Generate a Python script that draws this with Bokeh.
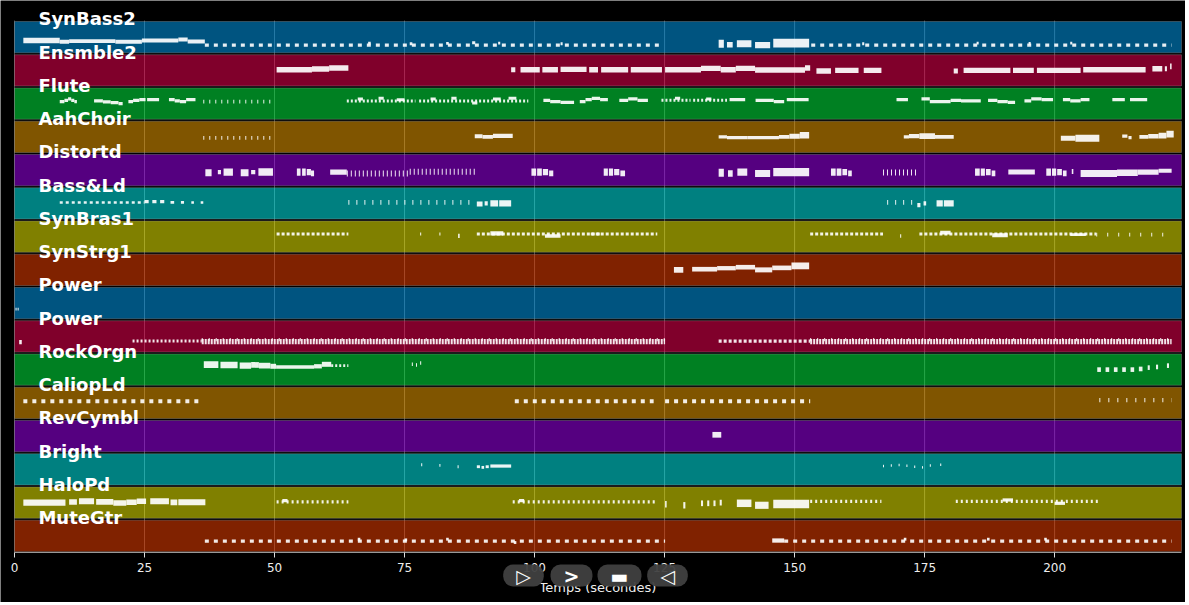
from bokeh.plotting import figure
from bokeh.models import ColumnDataSource, LabelSet, Label, Range1d, FixedTicker
from bokeh.core.properties import value
from bokeh.embed import file_html
from bokeh.resources import INLINE

# ---------------- data ----------------
TRACK_NAMES = ["SynBass2", "Ensmble2", "Flute", "AahChoir", "Distortd", "Bass&Ld",
               "SynBras1", "SynStrg1", "Power", "Power", "RockOrgn", "CaliopLd",
               "RevCymbl", "Bright", "HaloPd", "MuteGtr"]
TRACK_COLORS = ["#00a8ff", "#ff0055", "#00ff44", "#ffaa00", "#aa00ff", "#00ffff",
                "#ffff00", "#ff4400"] * 2
X_TICKS = [0, 25, 50, 75, 100, 125, 150, 175, 200]
TIME_END = 224.4

# note tuples: ("n", start, end, level-in-band, velocity)
# repeated notes: ("r", start, end, level, velocity, interval)   ticks: ("t", ...)
SYNBASS2 = [
    ("n", 1.7, 8.7, .40, 75), ("n", 8.7, 10.5, .36, 55), ("n", 10.5, 19.4, .38, 55),
    ("n", 19.4, 24.5, .36, 55), ("n", 24.5, 31.5, .40, 55), ("n", 31.5, 33.3, .43, 55),
    ("n", 33.3, 36.6, .37, 55),
    ("r", 36.6, 124.7, .26, 45, 1.7),
    ("n", 68, 68.5, .32, 40), ("n", 76, 76.5, .30, 40), ("n", 83, 83.5, .31, 40),
    ("n", 88, 88.6, .33, 40), ("n", 93, 93.4, .32, 40), ("n", 105, 105.4, .30, 40),
    ("n", 135.4, 136.4, .30, 110), ("n", 137.0, 138.1, .27, 75), ("n", 138.9, 141.7, .30, 100),
    ("n", 142.4, 145.3, .26, 90), ("n", 145.9, 152.8, .32, 120),
    ("r", 153.2, 222.5, .26, 45, 1.7),
    ("n", 163, 163.4, .30, 40), ("n", 185, 185.4, .32, 40), ("n", 195, 195.4, .31, 40),
    ("n", 203, 203.4, .32, 40),
]
ENSMBLE2 = [
    ("n", 50.4, 57.2, .52, 75), ("n", 57.2, 60.5, .54, 75), ("n", 60.5, 64.2, .57, 75),
    ("n", 95.5, 96.3, .52, 70), ("n", 97.3, 101.0, .52, 75), ("n", 101.5, 104.5, .52, 75),
    ("n", 105.0, 110.0, .53, 75), ("n", 110.5, 112.2, .52, 75), ("n", 112.8, 118.0, .52, 75),
    ("n", 118.5, 124.5, .52, 75), ("n", 125.1, 132.0, .52, 75), ("n", 132.0, 135.8, .56, 75),
    ("n", 135.8, 138.7, .52, 75), ("n", 138.7, 142.4, .56, 75), ("n", 142.4, 152.0, .51, 75),
    ("n", 152.0, 153.0, .57, 75), ("n", 154.2, 157.0, .48, 75), ("n", 157.8, 162.3, .50, 75),
    ("n", 163.3, 166.7, .50, 75), ("n", 180.6, 181.4, .48, 70), ("n", 182.5, 191.5, .50, 75),
    ("n", 192.0, 196.0, .50, 75), ("n", 196.6, 205.0, .50, 75), ("n", 205.5, 217.5, .52, 75),
    ("n", 218.8, 220.7, .55, 75), ("n", 221.2, 221.6, .55, 70), ("n", 222.2, 222.5, .62, 80),
]
FLUTE = [
    ("n", 8.7, 9.6, .56, 45), ("n", 9.6, 10.3, .60, 45), ("n", 10.3, 10.9, .64, 45),
    ("n", 10.9, 11.5, .60, 45), ("n", 11.5, 12.0, .56, 45),
    ("n", 15.3, 17.0, .58, 45), ("n", 17.0, 18.5, .55, 45), ("n", 18.5, 20.0, .53, 45),
    ("n", 20.0, 20.8, .50, 45),
    ("n", 21.9, 22.8, .56, 45), ("n", 22.8, 24.0, .60, 45), ("n", 24.0, 25.2, .62, 45),
    ("n", 25.5, 27.8, .62, 45),
    ("n", 29.7, 30.8, .62, 45), ("n", 30.8, 31.8, .58, 45), ("n", 31.8, 33.0, .56, 45),
    ("n", 33.0, 34.8, .62, 45),
    ("t", 36.3, 49.5, .56, 50, 1.1),
    ("r", 63.9, 77.1, .58, 42, 0.7), ("n", 66, 67, .64, 42), ("n", 70, 71, .66, 42),
    ("n", 73.5, 75, .62, 42),
    ("r", 77.8, 98.8, .58, 42, 0.7), ("n", 80, 81, .64, 42), ("n", 84, 85, .66, 42),
    ("n", 88, 89, .52, 42), ("n", 92, 93.5, .64, 42), ("n", 95, 96.5, .66, 42),
    ("n", 101.7, 103.0, .60, 45), ("n", 103.0, 105.0, .56, 45), ("n", 105.0, 107.6, .54, 45),
    ("n", 108.7, 109.8, .56, 45), ("n", 109.8, 111.0, .62, 45), ("n", 111.0, 112.6, .66, 45),
    ("n", 112.6, 114.1, .62, 45),
    ("n", 116.3, 118.0, .60, 45), ("n", 118.0, 119.8, .64, 45), ("n", 119.8, 121.8, .60, 45),
    ("r", 124.4, 130.0, .60, 42, 0.7), ("r", 130.5, 137.0, .60, 42, 0.7),
    ("n", 127, 128, .66, 42), ("n", 133, 134, .64, 42),
    ("n", 137.5, 140.5, .62, 45), ("n", 142.5, 146.0, .60, 45), ("n", 146.0, 148.0, .56, 45),
    ("n", 148.5, 152.7, .62, 45),
    ("n", 169.6, 171.8, .62, 45), ("n", 174.4, 176.0, .64, 45), ("n", 176.0, 180.0, .56, 45),
    ("n", 180.0, 182.0, .60, 45), ("n", 182.0, 185.8, .58, 45),
    ("n", 187.2, 189.0, .60, 45), ("n", 189.0, 191.0, .56, 45), ("n", 191.0, 192.4, .54, 45),
    ("n", 194.2, 195.5, .58, 45), ("n", 195.5, 197.5, .64, 45), ("n", 197.5, 199.7, .62, 45),
    ("n", 201.6, 203.0, .62, 45), ("n", 203.0, 205.0, .58, 45), ("n", 205.0, 206.7, .62, 45),
    ("n", 211.1, 213.5, .62, 45), ("n", 214.5, 217.8, .62, 45),
]
AAHCHOIR = [
    ("t", 36.3, 49.5, .47, 50, 1.1),
    ("n", 88.5, 90.0, .52, 55), ("n", 90.0, 92.0, .50, 55), ("n", 92.0, 95.8, .53, 60),
    ("n", 135.4, 137.0, .50, 45), ("n", 137.0, 141.0, .48, 45), ("n", 141.0, 147.0, .48, 45),
    ("n", 147.0, 149.0, .50, 50), ("n", 149.0, 151.0, .52, 70), ("n", 151.0, 152.8, .55, 90),
    ("n", 171.0, 172.0, .50, 45), ("n", 172.0, 174.0, .52, 60), ("n", 174.0, 177.0, .52, 80),
    ("n", 177.0, 180.6, .50, 55),
    ("n", 201.2, 204.0, .46, 70), ("n", 204.0, 208.6, .46, 100),
    ("n", 213.0, 214.0, .52, 45), ("n", 214.2, 214.8, .48, 45),
    ("n", 216.3, 218.0, .50, 55), ("n", 218.0, 220.0, .52, 65), ("n", 220.0, 221.5, .54, 80),
    ("n", 221.5, 222.9, .58, 95),
]
DISTORTD = [
    ("n", 36.7, 37.9, .42, 100), ("n", 39.1, 39.7, .44, 60), ("n", 40.2, 42.0, .44, 100),
    ("n", 43.5, 45.0, .42, 100), ("n", 45.5, 46.3, .44, 60), ("n", 46.9, 49.7, .44, 105),
    ("n", 54.3, 55.0, .44, 100), ("n", 55.3, 56.0, .44, 100), ("n", 56.2, 57.0, .44, 90),
    ("n", 57.0, 57.6, .40, 80), ("n", 60.7, 63.9, .44, 75),
    ("t", 63.9, 76.0, .40, 85, 0.8), ("t", 76.0, 88.5, .45, 85, 0.8),
    ("n", 99.4, 100.3, .44, 100), ("n", 100.5, 101.4, .44, 100), ("n", 101.6, 102.6, .44, 90),
    ("n", 102.8, 103.6, .40, 80),
    ("n", 113.3, 114.1, .44, 100), ("n", 114.3, 115.1, .44, 100), ("n", 115.3, 116.3, .44, 90),
    ("n", 116.5, 117.4, .40, 80),
    ("n", 135.4, 136.4, .42, 110), ("n", 137.2, 138.1, .40, 90), ("n", 139.0, 140.9, .44, 100),
    ("n", 142.4, 145.3, .40, 100), ("n", 145.9, 152.8, .44, 115),
    ("n", 157.0, 157.9, .44, 100), ("n", 158.1, 159.0, .44, 100), ("n", 159.2, 160.1, .44, 90),
    ("n", 160.3, 161.0, .40, 80),
    ("t", 167.0, 173.6, .43, 85, 0.8),
    ("n", 184.7, 185.6, .44, 100), ("n", 185.8, 186.6, .44, 100), ("n", 186.8, 187.7, .44, 90),
    ("n", 187.9, 188.6, .40, 80), ("n", 191.1, 196.2, .44, 70),
    ("n", 198.4, 199.3, .44, 100), ("n", 199.5, 200.3, .44, 100), ("n", 200.5, 201.4, .44, 90),
    ("n", 201.6, 202.3, .40, 80), ("n", 203.3, 203.6, .46, 70),
    ("n", 205.0, 212.0, .40, 100), ("n", 212.0, 216.0, .42, 90), ("n", 216.0, 220.0, .44, 75),
    ("n", 220.0, 222.5, .48, 55),
]
BASSLD = [
    ("r", 8.7, 25.0, .53, 35, 1.2),
    ("n", 25.0, 25.8, .55, 45), ("n", 26.5, 27.3, .55, 45), ("n", 28.0, 28.8, .55, 45),
    ("n", 30.0, 30.7, .53, 40), ("n", 32.0, 32.6, .53, 40), ("n", 34.0, 34.5, .53, 35),
    ("n", 35.8, 36.3, .53, 35),
    ("t", 64.2, 88.5, .53, 65, 1.5),
    ("n", 88.9, 90.0, .48, 70), ("n", 90.4, 91.0, .50, 60), ("n", 91.5, 93.0, .50, 90),
    ("n", 93.2, 95.5, .50, 90),
    ("t", 167.8, 173.3, .53, 65, 1.5),
    ("n", 173.6, 174.2, .45, 60), ("n", 174.8, 175.3, .50, 60), ("n", 177.3, 178.5, .50, 90),
    ("n", 178.7, 180.6, .50, 90),
]
SYNBRAS1 = [
    ("r", 50.4, 64.2, .58, 40, 1.0),
    ("n", 78.0, 78.2, .58, 40), ("n", 81.7, 81.9, .58, 40), ("n", 85.3, 85.6, .52, 60),
    ("r", 88.9, 112.6, .58, 40, 1.0), ("n", 91.5, 94.0, .60, 60), ("n", 102.0, 105.0, .52, 50),
    ("r", 110.8, 123.6, .58, 40, 1.0),
    ("r", 153.0, 167.0, .58, 40, 1.0), ("n", 170.3, 170.5, .52, 50),
    ("r", 174.0, 208.0, .58, 40, 1.0), ("n", 178.0, 180.0, .62, 50), ("n", 188.0, 191.0, .54, 55),
    ("n", 203.0, 206.0, .56, 40),
    ("t", 208.0, 222.5, .56, 55, 2.2),
]
SYNSTRG1 = [
    ("n", 126.8, 128.6, .50, 80), ("n", 130.3, 135.1, .52, 65), ("n", 135.1, 138.7, .55, 60),
    ("n", 138.7, 142.4, .58, 65), ("n", 142.4, 145.7, .50, 70), ("n", 145.7, 149.4, .56, 65),
    ("n", 149.4, 152.8, .62, 95),
]
POWER_A = [
    ("n", 0.2, 0.4, .32, 40), ("n", 0.6, 0.8, .32, 40),
]
POWER_B = [
    ("n", 0.9, 1.4, .33, 60),
    ("r", 22.7, 36.0, .36, 40, 0.8), ("r", 36.0, 125.1, .34, 72, 0.45),
    ("t", 36.0, 125.1, .40, 45, 1.3),
    ("r", 135.4, 153.0, .36, 45, 1.0), ("r", 153.0, 222.5, .34, 72, 0.45),
    ("t", 153.0, 222.5, .40, 45, 1.3),
]
ROCKORGN = [
    ("n", 36.4, 39.2, .65, 95), ("n", 39.6, 42.9, .64, 90), ("n", 43.3, 45.5, .62, 85),
    ("n", 45.5, 47.0, .64, 80), ("n", 47.0, 49.2, .62, 80), ("n", 49.2, 50.3, .60, 70),
    ("n", 50.3, 57.6, .58, 50), ("n", 57.6, 59.1, .60, 60), ("n", 59.1, 60.9, .66, 70),
    ("r", 60.9, 64.2, .62, 40, 0.7),
    ("n", 76.4, 76.6, .66, 50), ("n", 77.2, 77.4, .64, 50), ("n", 78.0, 78.2, .70, 50),
    ("n", 208.2, 208.9, .50, 65), ("n", 209.8, 210.5, .50, 65), ("n", 211.4, 212.1, .50, 65),
    ("n", 213.0, 213.7, .50, 65), ("n", 214.6, 215.3, .50, 65), ("n", 216.2, 216.9, .52, 65),
    ("n", 217.9, 218.3, .56, 65), ("n", 219.5, 219.9, .58, 65), ("n", 221.6, 222.0, .62, 65),
]
CALIOPLD = [
    ("r", 1.7, 36.3, .55, 55, 1.7),
    ("r", 96.2, 122.9, .55, 55, 1.7),
    ("r", 125.1, 153.0, .55, 55, 1.7),
    ("t", 208.6, 222.5, .58, 60, 1.7),
]
REVCYMBL = [
    ("n", 134.2, 135.9, .54, 80),
]
BRIGHT = [
    ("n", 78.2, 78.4, .64, 40), ("n", 81.7, 81.9, .62, 40), ("n", 85.2, 85.4, .58, 40),
    ("n", 88.9, 89.5, .58, 40), ("n", 89.8, 90.3, .56, 40), ("n", 90.6, 91.2, .58, 40),
    ("n", 91.5, 95.5, .60, 45),
    ("n", 167.0, 167.2, .60, 35), ("n", 168.5, 168.7, .62, 35), ("n", 170.0, 170.2, .63, 35),
    ("n", 171.5, 171.7, .61, 35), ("n", 173.0, 173.2, .58, 35), ("n", 174.5, 174.7, .56, 35),
    ("n", 176.0, 176.2, .62, 35), ("n", 178.0, 178.2, .64, 35),
]
HALOPD = [
    ("n", 1.7, 9.8, .50, 85), ("n", 10.5, 12.0, .52, 75), ("n", 12.4, 15.3, .54, 85),
    ("n", 15.7, 19.0, .52, 80), ("n", 19.0, 21.5, .49, 75), ("n", 21.5, 23.5, .51, 75),
    ("n", 23.5, 25.3, .54, 75), ("n", 26.1, 29.7, .54, 85), ("n", 30.0, 31.3, .51, 80),
    ("n", 31.5, 36.7, .51, 85),
    ("r", 50.4, 64.2, .52, 45, 0.9), ("n", 51.5, 52.5, .56, 45),
    ("r", 95.8, 123.3, .52, 45, 0.9), ("n", 97.0, 98.0, .56, 45),
    ("n", 125.1, 125.4, .45, 90), ("n", 128.6, 129.0, .42, 90), ("n", 132.0, 132.4, .48, 80),
    ("n", 133.2, 133.6, .48, 80), ("n", 134.4, 134.8, .48, 80), ("n", 135.6, 136.0, .50, 80),
    ("n", 138.9, 141.7, .48, 105), ("n", 142.4, 145.0, .42, 100), ("n", 145.9, 152.8, .46, 120),
    ("r", 153.0, 166.7, .54, 45, 0.9),
    ("r", 181.0, 208.6, .54, 45, 0.9), ("n", 190.0, 192.0, .58, 45), ("n", 200.0, 202.0, .48, 45),
]
MUTEGTR = [
    ("r", 36.6, 125.1, .34, 45, 1.7),
    ("n", 66.0, 66.5, .40, 40), ("n", 75.0, 75.5, .38, 40), ("n", 83.0, 83.5, .40, 40),
    ("n", 96.0, 96.5, .30, 40),
    ("n", 145.7, 148.0, .36, 60),
    ("r", 148.0, 222.5, .34, 45, 1.7),
    ("n", 171.0, 171.5, .40, 40), ("n", 187.0, 187.5, .40, 40), ("n", 198.0, 198.5, .40, 40),
]
TRACK_NOTES = [SYNBASS2, ENSMBLE2, FLUTE, AAHCHOIR, DISTORTD, BASSLD, SYNBRAS1, SYNSTRG1,
               POWER_A, POWER_B, ROCKORGN, CALIOPLD, REVCYMBL, BRIGHT, HALOPD, MUTEGTR]
BUTTON_SYMBOLS = ["\u25b7", ">", "\u25ac", "\u25c1"]
X_LABEL = "Temps (secondes)"

# ---------------- layout (pixels) ----------------
N = len(TRACK_NAMES)
W, H = 1185, 602
LEFT_PX, TOP_PX, BOTTOM_PX = 14, 20, 552        # where time 0 / top band / bottom band sit
PX_PER_S = (1181 - LEFT_PX) / TIME_END
BAND_PX = (BOTTOM_PX - TOP_PX) / N

x0 = -LEFT_PX / PX_PER_S
x1 = x0 + W / PX_PER_S
y_top = N + TOP_PX / BAND_PX
y_bot = -(H - BOTTOM_PX) / BAND_PX

p = figure(width=W, height=H, output_backend="svg", toolbar_location=None,
           x_range=Range1d(x0, x1), y_range=Range1d(y_bot, y_top),
           y_axis_location=None, min_border=0)
p.background_fill_color = "black"
p.border_fill_color = "black"
p.outline_line_color = None
p.xgrid.visible = False
p.ygrid.visible = False

ax = p.xaxis[0]
ax.fixed_location = 0
ax.bounds = (0, TIME_END)
ax.ticker = FixedTicker(ticks=X_TICKS)
ax.major_label_text_font = "DejaVu Sans"
ax.major_label_text_font_size = "12px"
ax.major_label_text_color = "#eeeeee"
ax.major_label_standoff = 5
ax.major_tick_line_color = "#dddddd"
ax.major_tick_out = 5
ax.major_tick_in = 0
ax.minor_tick_line_color = None
ax.axis_line_color = "#999999"

# vertical grid lines, confined to the bands
p.segment(x0=X_TICKS, y0=0, x1=X_TICKS, y1=N, line_color="white", line_alpha=0.3,
          line_width=1)

# bands
bottoms = [N - 1 - k + 0.03 for k in range(N)]
tops = [N - k - 0.03 for k in range(N)]
p.quad(left=0, right=TIME_END, bottom=bottoms, top=tops, fill_color=TRACK_COLORS,
       fill_alpha=0.5, line_color="#9a9a9a", line_alpha=0.35, line_width=1)

# notes
for k, notes in enumerate(TRACK_NOTES):
    base = N - 1 - k
    nx, ny, nw, nh = [], [], [], []
    for item in notes:
        kind, s, e, lvl, vel = item[:5]
        y = base + lvl
        h = vel / 14.0
        if kind == "n":
            nx.append((s + e) / 2)
            nw.append(e - s)
            ny.append(y)
            nh.append(h)
        else:
            period = item[5] * PX_PER_S
            if kind == "r":
                on = max(2, round(period * 0.5))
                off = max(1, round(period) - on)
            else:
                on = 1
                off = max(1, round(period) - 1)
            p.segment(x0=[s], y0=[y], x1=[e], y1=[y], line_width=h, line_color="white",
                      line_alpha=0.9, line_dash=f"{on} {off}", line_cap="butt")
    if nx:
        p.rect(x=nx, y=ny, width=nw, height=nh, height_units="screen",
               fill_color="white", fill_alpha=0.92, line_color=None)

# track labels
lab_src = ColumnDataSource(dict(x=[4.6] * N, y=[N - k + 0.05 for k in range(N)],
                                text=TRACK_NAMES))
p.add_layout(LabelSet(x="x", y="y", text="text", source=lab_src, text_color="white",
                      text_font=value("DejaVu Sans"), text_font_style="bold",
                      text_font_size="18px", text_baseline="middle", text_align="left"))

# axis title
p.add_layout(Label(x=TIME_END / 2, y=0, y_offset=-35, text=X_LABEL, text_color="#eeeeee",
                   text_font="DejaVu Sans", text_font_size="13px",
                   text_align="center", text_baseline="middle"))

# control buttons (screen units, frame == canvas)
for i, sym in enumerate(BUTTON_SYMBOLS):
    p.add_layout(Label(x=523 + 48 * i, y=H - 575, x_units="screen", y_units="screen",
                       text=sym, text_color="white", text_font="DejaVu Sans",
                       text_font_style="bold", text_font_size="19px",
                       text_align="center", text_baseline="middle",
                       background_fill_color="#404040", background_fill_alpha=0.95,
                       padding=dict(left=13, right=13, top=0, bottom=0),
                       border_radius=10))

open("out.html", "w").write(file_html(p, INLINE))
